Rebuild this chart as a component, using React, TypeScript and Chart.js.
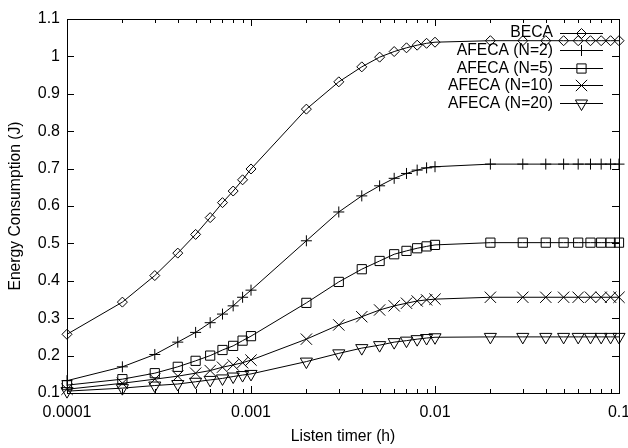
import React, { useEffect, useRef } from 'react';
import { Chart, registerables } from 'chart.js';
import { drawPoint } from 'chart.js/helpers';

Chart.register(...registerables);

const listenTimer = [
  0.0001, 0.0002, 0.0003, 0.0004, 0.0005, 0.0006, 0.0007, 0.0008, 0.0009, 0.001,
  0.002, 0.003, 0.004, 0.005, 0.006, 0.007, 0.008, 0.009, 0.01,
  0.02, 0.03, 0.04, 0.05, 0.06, 0.07, 0.08, 0.09, 0.1,
];

const beca = [
  0.257, 0.343, 0.414, 0.474, 0.524, 0.569, 0.609, 0.640, 0.670, 0.699,
  0.859, 0.932, 0.972, 0.998, 1.013, 1.023, 1.030, 1.035, 1.038,
  1.042, 1.042, 1.042, 1.042, 1.042, 1.042, 1.042, 1.042, 1.042,
];
const afecaN2 = [
  0.133, 0.170, 0.203, 0.236, 0.262, 0.288, 0.311, 0.333, 0.356, 0.375,
  0.507, 0.584, 0.627, 0.654, 0.674, 0.687, 0.696, 0.702, 0.705,
  0.712, 0.712, 0.712, 0.712, 0.712, 0.712, 0.712, 0.712, 0.712,
];
const afecaN5 = [
  0.121, 0.137, 0.153, 0.170, 0.186, 0.200, 0.215, 0.226, 0.240, 0.252,
  0.341, 0.397, 0.431, 0.453, 0.471, 0.480, 0.487, 0.492, 0.496,
  0.502, 0.502, 0.502, 0.502, 0.502, 0.502, 0.502, 0.502, 0.502,
];
const afecaN10 = [
  0.110, 0.126, 0.137, 0.145, 0.153, 0.160, 0.169, 0.175, 0.181, 0.188,
  0.244, 0.282, 0.304, 0.322, 0.333, 0.340, 0.346, 0.349, 0.351,
  0.356, 0.356, 0.356, 0.356, 0.356, 0.356, 0.356, 0.356, 0.356,
];
const afecaN20 = [
  0.105, 0.113, 0.120, 0.124, 0.130, 0.135, 0.139, 0.144, 0.148, 0.151,
  0.184, 0.206, 0.220, 0.228, 0.236, 0.240, 0.244, 0.247, 0.249,
  0.250, 0.250, 0.250, 0.250, 0.250, 0.250, 0.250, 0.250, 0.250,
];

const seriesLabels = ['BECA', 'AFECA (N=2)', 'AFECA (N=5)', 'AFECA (N=10)', 'AFECA (N=20)'];
const seriesValues = [beca, afecaN2, afecaN5, afecaN10, afecaN20];
const seriesStyles = [
  { pointStyle: 'rectRot', radius: 5, rotation: 0 },
  { pointStyle: 'cross', radius: 5.5, rotation: 0 },
  { pointStyle: 'rect', radius: 6.5, rotation: 0 },
  { pointStyle: 'crossRot', radius: 8, rotation: 0 },
  { pointStyle: 'triangle', radius: 7, rotation: 180 },
];

const xMajorTicks = [0.0001, 0.001, 0.01, 0.1];
const yTicks = [0.1, 0.2, 0.3, 0.4, 0.5, 0.6, 0.7, 0.8, 0.9, 1.0, 1.1];

const FONT = "'Liberation Sans', Arial, Helvetica, sans-serif";
const TICK_SIZE = 16;
const TEXT_SIZE = 15.7;

const framePlugin = {
  id: 'frameTicks',
  afterDraw(chart: any) {
    const { ctx, chartArea } = chart;
    const { left, right, top, bottom } = chartArea;
    const xs = chart.scales.x;
    const ys = chart.scales.y;
    ctx.save();
    ctx.strokeStyle = '#000';
    ctx.lineWidth = 1;
    ctx.beginPath();
    for (let e = -4; e <= -1; e++) {
      for (let k = 1; k <= 9; k++) {
        const v = k * Math.pow(10, e);
        if (v > 0.1 + 1e-12) continue;
        const px = Math.round(xs.getPixelForValue(v)) + 0.5;
        const len = k === 1 ? 7 : 4;
        ctx.moveTo(px, bottom);
        ctx.lineTo(px, bottom - len);
        ctx.moveTo(px, top);
        ctx.lineTo(px, top + len);
      }
    }
    for (const v of yTicks) {
      const py = Math.round(ys.getPixelForValue(v)) + 0.5;
      ctx.moveTo(left, py);
      ctx.lineTo(left + 7, py);
      ctx.moveTo(right, py);
      ctx.lineTo(right - 7, py);
    }
    ctx.stroke();
    ctx.strokeRect(Math.round(left) + 0.5, Math.round(top) + 0.5, Math.round(right - left), Math.round(bottom - top));

    // legend
    ctx.font = `${TEXT_SIZE}px ${FONT}`;
    ctx.fillStyle = '#000';
    ctx.textAlign = 'right';
    ctx.textBaseline = 'middle';
    const textRight = 553;
    const lineStart = 560;
    const lineEnd = 603;
    seriesLabels.forEach((label, i) => {
      const y = 32.5 + i * 17.6;
      ctx.fillText(label, textRight, y + 0.5);
      ctx.beginPath();
      ctx.moveTo(lineStart, Math.round(y) + 0.5);
      ctx.lineTo(lineEnd, Math.round(y) + 0.5);
      ctx.stroke();
      ctx.fillStyle = 'rgba(0,0,0,0)';
      drawPoint(ctx, { ...seriesStyles[i], borderWidth: 1 } as any, (lineStart + lineEnd) / 2, Math.round(y) + 0.5);
      ctx.fillStyle = '#000';
    });
    ctx.restore();
  },
};

export default function App() {
  const canvasRef = useRef<HTMLCanvasElement | null>(null);

  useEffect(() => {
    if (!canvasRef.current) return;
    Chart.defaults.font.family = FONT;
    Chart.defaults.font.size = TICK_SIZE;
    Chart.defaults.color = '#000';

    const datasets = seriesValues.map((vals, i) => ({
      label: seriesLabels[i],
      data: listenTimer.map((x, j) => ({ x, y: vals[j] })),
      borderColor: '#000',
      borderWidth: 1,
      backgroundColor: 'rgba(0,0,0,0)',
      pointStyle: seriesStyles[i].pointStyle,
      pointRadius: seriesStyles[i].radius,
      pointRotation: seriesStyles[i].rotation,
      pointBorderColor: '#000',
      pointBackgroundColor: 'rgba(0,0,0,0)',
      pointBorderWidth: 1,
      tension: 0,
      fill: false,
      clip: false as any,
    }));

    const chart = new Chart(canvasRef.current, {
      type: 'line',
      data: { datasets },
      options: {
        responsive: false,
        animation: false,
        devicePixelRatio: 1,
        layout: { padding: { top: 19, right: 9, left: 0, bottom: 0 } },
        plugins: { legend: { display: false }, tooltip: { enabled: false } },
        scales: {
          x: {
            type: 'logarithmic',
            min: 0.0001,
            max: 0.1,
            grid: { display: false, drawTicks: false },
            border: { display: false },
            ticks: {
              autoSkip: false,
              maxRotation: 0,
              padding: 10,
              font: { size: TICK_SIZE, family: FONT },
              color: '#000',
              callback: (v: any) => {
                const val = Number(v);
                const hit = xMajorTicks.find((t) => Math.abs(t - val) / t < 1e-6);
                return hit !== undefined ? String(hit) : '';
              },
            },
            title: {
              display: true,
              text: 'Listen timer (h)',
              font: { size: TEXT_SIZE, family: FONT },
              color: '#000',
              padding: { top: 0, bottom: 2 },
            },
            afterFit: (scale: any) => {
              scale.height = 55;
              scale.paddingLeft = 0;
              scale.paddingRight = 0;
            },
          },
          y: {
            type: 'linear',
            min: 0.1,
            max: 1.1,
            grid: { display: false, drawTicks: false },
            border: { display: false },
            ticks: {
              stepSize: 0.1,
              padding: 7,
              font: { size: TICK_SIZE, family: FONT },
              color: '#000',
              callback: (v: any) => String(parseFloat(Number(v).toFixed(2))),
            },
            title: {
              display: true,
              text: 'Energy Consumption (J)',
              font: { size: TEXT_SIZE, family: FONT },
              color: '#000',
              padding: { top: 6, bottom: 0 },
            },
            afterFit: (scale: any) => {
              scale.width = 67;
              scale.paddingTop = 0;
              scale.paddingBottom = 0;
            },
          },
        },
      },
      plugins: [framePlugin],
    });
    return () => chart.destroy();
  }, []);

  return (
    <div style={{ position: 'absolute', left: 0, top: 0, width: 628, height: 448, background: '#fff' }}>
      <canvas ref={canvasRef} width={628} height={448} />
    </div>
  );
}
